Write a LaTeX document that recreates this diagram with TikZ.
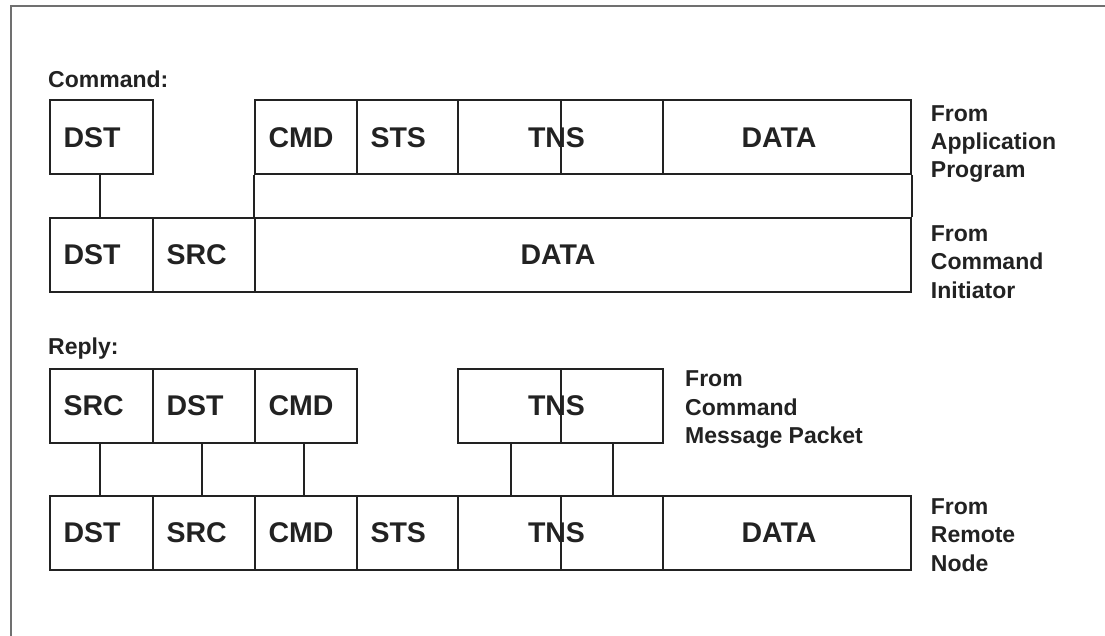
\documentclass[tikz,border=0pt]{standalone}
\usepackage{fontspec}
\setmainfont{Liberation Sans}
\usetikzlibrary{calc}
\definecolor{ink}{HTML}{222222}
\definecolor{frame}{HTML}{707070}
\newcommand\boxfont{\fontsize{28.5}{30}\selectfont\bfseries}
\newcommand\lblfont{\fontsize{23}{28.3}\selectfont\bfseries}
\tikzset{
  cell/.style={draw=ink, line width=2pt, rectangle, inner sep=0pt,
    minimum height=73.5pt, font=\boxfont, text=ink},
  conn/.style={draw=ink, line width=2pt},
  lbl/.style={font=\lblfont, text=ink, inner sep=0pt, align=left},
}
% name, x1, x2, ytop, text  (left aligned text)
\newcommand\lcell[5]{%
  \pgfmathsetmacro\cw{#3-#2}\pgfmathsetmacro\tw{#3-#2-27}%
  \node[cell, minimum width=\cw pt, text width=\tw pt, align=left] (#1)
    at ({(#2+#3)/2},{#4+36.75}) {#5};}
% name, x1, x2, ytop, options  (empty cell, label given in options)
\newcommand\ccell[5]{%
  \pgfmathsetmacro\cw{#3-#2}%
  \node[cell, minimum width=\cw pt, #5] (#1)
    at ({(#2+#3)/2},{#4+36.75}) {};}
\begin{document}
\begin{tikzpicture}[x=1pt, y=-1pt]
\useasboundingbox (0,0) rectangle (1105,636);
% frame
\draw[frame, line width=2pt] (1105,6) -- (10.5,6) -- (10.5,636);

% ---- Command ----
\node[lbl, anchor=base west] (cmdlbl) at (48,87.3) {Command:};
\lcell{dstA}{50}{153}{100.5}{DST}
\lcell{cmdA}{255}{357}{100.5}{CMD}
\lcell{stsA}{357}{458}{100.5}{STS}
\ccell{tnsA}{458}{663}{100.5}{label={[font=\boxfont,text=ink,xshift=-4pt]center:TNS}}
\ccell{dataA}{663}{911}{100.5}{label={[font=\boxfont,text=ink,xshift=-8pt]center:DATA}}
\draw[conn] (tnsA.north) -- (tnsA.south);

\lcell{dstB}{50}{153}{218.3}{DST}
\lcell{srcB}{153}{255}{218.3}{SRC}
\ccell{dataB}{255}{911}{218.3}{label={[font=\boxfont,text=ink,xshift=-25pt]center:DATA}}

\draw[conn] (cmdA.south west) -- (dataB.north west);
\draw[conn] (dataA.south east) -- (dataB.north east);
\draw[conn] ([xshift=-2pt]dstA.south) -- ([xshift=-2pt]dstB.north);

\node[lbl, anchor=north west] (fromApp) at (930.7,105) {From\\Application\\Program};
\node[lbl, anchor=north west] (fromInit) at (930.7,225.6) {From\\Command\\Initiator};

% ---- Reply ----
\node[lbl, anchor=base west] (replbl) at (48,354) {Reply:};
\lcell{srcC}{50}{153}{369.3}{SRC}
\lcell{dstC}{153}{255}{369.3}{DST}
\lcell{cmdC}{255}{357}{369.3}{CMD}
\ccell{tnsC}{458}{663}{369.3}{label={[font=\boxfont,text=ink,xshift=-4pt]center:TNS}}
\draw[conn] (tnsC.north) -- (tnsC.south);

\lcell{dstD}{50}{153}{496}{DST}
\lcell{srcD}{153}{255}{496}{SRC}
\lcell{cmdD}{255}{357}{496}{CMD}
\lcell{stsD}{357}{458}{496}{STS}
\ccell{tnsD}{458}{663}{496}{label={[font=\boxfont,text=ink,xshift=-4pt]center:TNS}}
\ccell{dataD}{663}{911}{496}{label={[font=\boxfont,text=ink,xshift=-8pt]center:DATA}}
\draw[conn] (tnsD.north) -- (tnsD.south);

\draw[conn] ([xshift=-2pt]srcC.south) -- ([xshift=-2pt]dstD.north);
\draw[conn] ([xshift=-2pt]dstC.south) -- ([xshift=-2pt]srcD.north);
\draw[conn] ([xshift=-2pt]cmdC.south) -- ([xshift=-2pt]cmdD.north);
\draw[conn] ($(tnsC.south west)+(53.5,0)$) -- ($(tnsD.north west)+(53.5,0)$);
\draw[conn] ($(tnsC.south west)+(156,0)$) -- ($(tnsD.north west)+(156,0)$);

\node[lbl, anchor=north west] (fromMsg) at (685,370.8) {From\\Command\\Message Packet};
\node[lbl, anchor=north west] (fromRem) at (930.7,498.5) {From\\Remote\\Node};
\end{tikzpicture}
\end{document}
